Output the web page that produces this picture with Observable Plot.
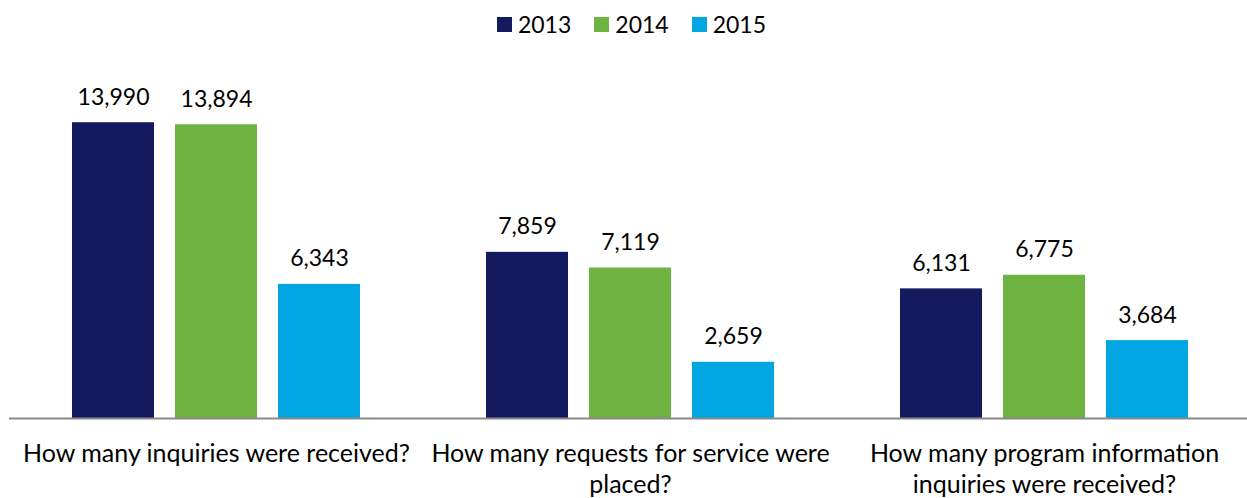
<!DOCTYPE html>
<html><head><meta charset="utf-8">
<script src="https://cdn.jsdelivr.net/npm/d3@7"></script>
<script src="https://cdn.jsdelivr.net/npm/@observablehq/plot@0.6"></script>
<style>
body{margin:0;overflow:hidden;background:#fff;font-family:Lato,sans-serif;}
#legend{height:48px;display:flex;justify-content:center;align-items:center;font-size:23px;color:#000;padding-left:16px;}
.item{display:flex;align-items:center;margin:0 11.5px;}
.sw{width:15px;height:15px;margin-right:6px;}
</style></head><body><div id="legend"></div><div id="chart"></div>
<script>
const questions = ["How many inquiries were received?","How many requests for service were placed?","How many program information inquiries were received?"];
const questionLabels = ["How many inquiries were received?","How many requests for service were\nplaced?","How many program information\ninquiries were received?"];
const years = ["2013","2014","2015"];
const values2013 = [13990, 7859, 6131];
const values2014 = [13894, 7119, 6775];
const values2015 = [6343, 2659, 3684];
const colors = ["#141A5E","#6FB443","#00A5E1"];

const series = [values2013, values2014, values2015];
const data = questions.flatMap((q,i)=>years.map((y,j)=>({question:q, year:y, value:series[j][i]})));

const legend = document.getElementById("legend");
years.forEach((y,j)=>{
  const it = document.createElement("div"); it.className="item";
  const sw = document.createElement("div"); sw.className="sw"; sw.style.background=colors[j];
  const t = document.createElement("span"); t.textContent=y;
  it.appendChild(sw); it.appendChild(t); legend.appendChild(it);
});

const chart = Plot.plot({
  width:1251, height:450, marginLeft:9, marginRight:0, marginTop:74, marginBottom:80,
  style:{fontFamily:"Lato, sans-serif", maxWidth:"none", overflow:"visible", color:"#000"},
  fx:{domain:questions, padding:0, label:null, axis:null},
  x:{domain:years, paddingInner:0.2, paddingOuter:0.6, axis:null},
  y:{domain:[0,14000], axis:null},
  color:{domain:years, range:colors},
  marks:[
    Plot.barY(data,{fx:"question", x:"year", y:"value", fill:"year"}),
    Plot.text(data,{fx:"question", x:"year", y:"value", text:d=>d3.format(",")(d.value), dy:-18, lineAnchor:"bottom", fontSize:23, fill:"#000"}),
    Plot.ruleY([0],{stroke:"#898989", strokeWidth:2}),
    Plot.axisFx({anchor:"bottom", tickSize:0, tickPadding:21.5, fontSize:25, lineHeight:1.25, label:null, tickFormat:q=>questionLabels[questions.indexOf(q)], fill:"#000"})
  ]
});
document.getElementById("chart").appendChild(chart);
</script>
</body></html>
